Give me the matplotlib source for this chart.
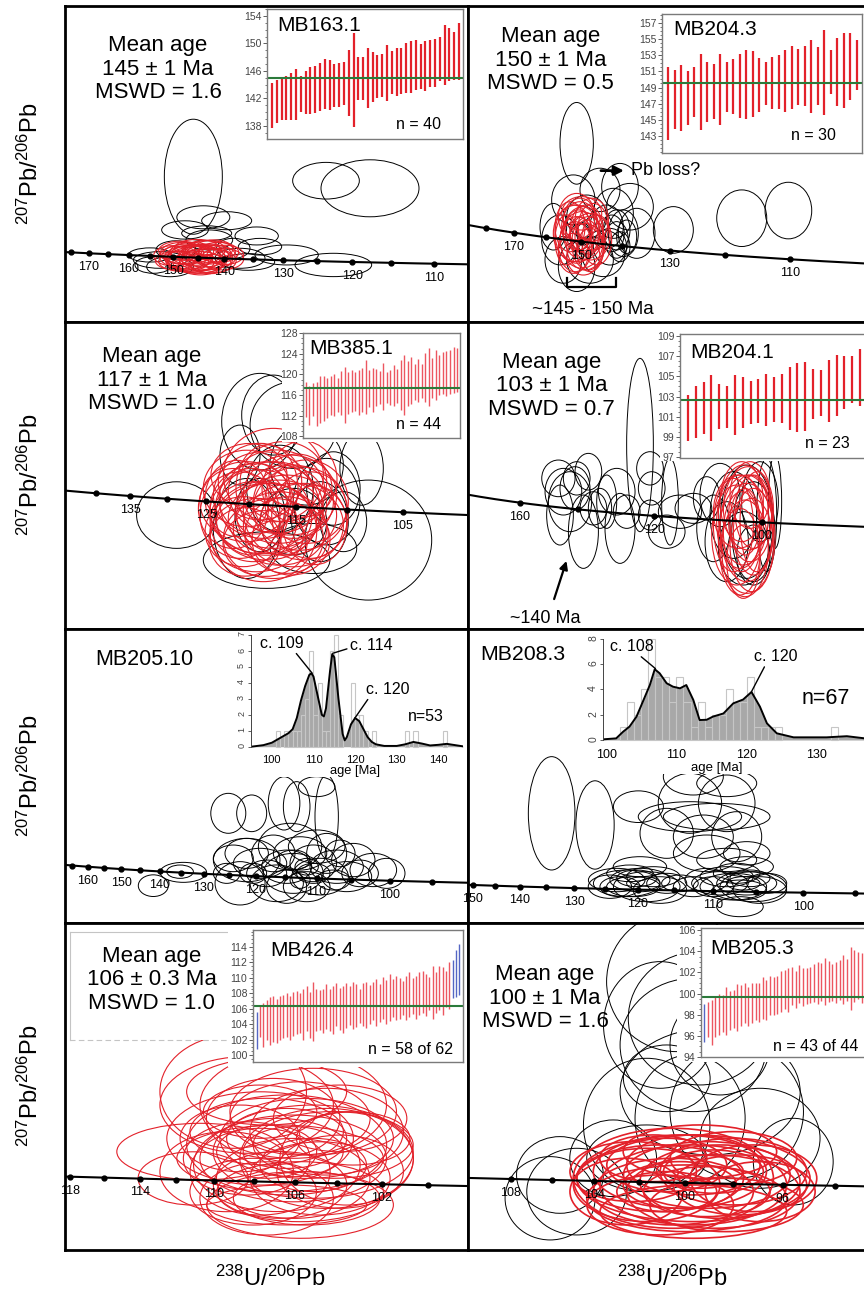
import numpy as np
import matplotlib.pyplot as plt
from matplotlib.patches import Ellipse
from matplotlib.ticker import MultipleLocator

plt.rcParams['font.family'] = ['Liberation Sans', 'DejaVu Sans']
plt.rcParams['mathtext.default'] = 'regular'

FW, FH = 864, 1299
RED = '#e3212a'
PALE_RED = '#ec5660'
BLUE = '#5566c4'
GREEN = '#2b7a3a'
NARROW = ['Liberation Sans Narrow', 'Liberation Sans', 'DejaVu Sans']

# U-Pb decay constants (1/Ma) and 238U/235U
L238, L235, U85 = 1.55125e-4, 9.8485e-4, 137.818

# ---------------- MB163.1 ----------------
a_black = [(43.68, 0.05868, 3.48, 0.0138), (51.64, 0.0582, 4.0, 0.0044),
           (54.28, 0.05729, 5.88, 0.00684), (44.28, 0.05381, 3.18, 0.00276),
           (45.68, 0.0534, 3.0, 0.00216), (47.48, 0.05157, 2.6, 0.00216),
           (47.68, 0.05028, 2.6, 0.0020), (49.28, 0.04929, 3.8, 0.0024),
           (52.08, 0.04809, 4.6, 0.0028), (44.64, 0.05109, 2.8, 0.0024),
           (44.48, 0.05189, 3.0, 0.0018), (41.68, 0.04869, 3.2, 0.0020),
           (41.28, 0.04809, 2.2, 0.0020), (42.28, 0.04788, 2.8, 0.0024),
           (46.48, 0.04889, 3.0, 0.0024), (46.08, 0.05009, 2.0, 0.0024),
           (41.08, 0.04929, 2.6, 0.0017), (46.96, 0.04845, 3.2, 0.0020),
           (42.64, 0.04989, 2.4, 0.0022), (43.18, 0.05229, 2.8, 0.0022)]
a_red = [(43.0, 0.0495, 2.6, 0.0026), (43.4, 0.0490, 2.9, 0.0028), (43.8, 0.0493, 3.0, 0.0025),
         (44.2, 0.0489, 2.8, 0.0030), (44.6, 0.0494, 2.7, 0.0024), (45.0, 0.0491, 2.5, 0.0027),
         (43.2, 0.0487, 2.4, 0.0024), (43.6, 0.0497, 2.6, 0.0022), (44.0, 0.0484, 3.1, 0.0026),
         (44.4, 0.0499, 2.4, 0.0023), (44.8, 0.0486, 2.9, 0.0029), (42.8, 0.0491, 2.3, 0.0025),
         (45.2, 0.0496, 2.4, 0.0024), (43.9, 0.0501, 2.7, 0.0021), (44.1, 0.0481, 2.6, 0.0024),
         (43.5, 0.0483, 2.8, 0.0022), (44.7, 0.0482, 2.5, 0.0023), (42.9, 0.0498, 2.6, 0.0023),
         (45.4, 0.0488, 2.6, 0.0026), (43.7, 0.0489, 3.2, 0.0031), (44.3, 0.0492, 3.0, 0.0027),
         (42.6, 0.0486, 2.4, 0.0022), (44.9, 0.0500, 2.3, 0.0022), (43.3, 0.0494, 2.9, 0.0024),
         (44.5, 0.0488, 3.1, 0.0025), (42.4, 0.0492, 2.2, 0.0024), (45.6, 0.0493, 2.2, 0.0023),
         (43.1, 0.0485, 3.0, 0.0024), (44.6, 0.0497, 3.2, 0.0026), (43.9, 0.0487, 3.6, 0.0032)]
a_hi = [144.2, 144.7, 145.0, 145.2, 145.7, 146.3, 145.3, 146.0, 146.6, 146.7,
        147.2, 147.7, 147.6, 147.0, 147.2, 147.3, 149.0, 151.5, 148.0, 148.0,
        149.3, 148.8, 148.3, 148.4, 149.8, 148.9, 149.3, 149.3, 150.1, 150.4,
        150.5, 149.9, 150.4, 150.5, 150.6, 151.0, 152.7, 152.2, 151.7, 152.9]
a_lo = [137.7, 138.4, 138.8, 138.8, 138.9, 138.9, 140.0, 139.8, 139.8, 139.9,
        140.2, 140.5, 140.3, 140.8, 140.8, 141.0, 139.4, 137.9, 141.7, 141.8,
        140.6, 141.5, 142.0, 142.2, 141.6, 142.7, 142.3, 142.7, 142.8, 142.8,
        143.2, 143.4, 143.1, 143.6, 143.7, 144.6, 143.9, 144.5, 144.7, 144.7]

# ---------------- MB204.3 ----------------
b_black = [(42.12, 0.05369, 2.5, 0.00384), (54.5, 0.05017, 3.75, 0.00266),
           (58.0, 0.05053, 3.5, 0.00266), (49.37, 0.04962, 3.0, 0.00219),
           (41.87, 0.05103, 3.25, 0.00235), (43.87, 0.0515, 3.0, 0.00204),
           (45.37, 0.05165, 2.75, 0.00219), (46.12, 0.05071, 3.5, 0.00219),
           (46.62, 0.04946, 2.75, 0.00235), (45.62, 0.04946, 2.25, 0.00219),
           (45.12, 0.04962, 2.0, 0.00188), (44.87, 0.0504, 3.0, 0.00235),
           (40.87, 0.04915, 2.75, 0.00235), (41.12, 0.04821, 2.75, 0.00219),
           (42.12, 0.0479, 2.75, 0.00235), (43.12, 0.04821, 3.5, 0.00219),
           (44.12, 0.04852, 3.25, 0.00219), (42.87, 0.05024, 3.0, 0.00204),
           (40.37, 0.04977, 2.0, 0.00219), (44.62, 0.04883, 2.5, 0.00172),
           (45.37, 0.04883, 1.5, 0.00141), (45.12, 0.04915, 1.75, 0.00172),
           (45.87, 0.0493, 1.5, 0.00157), (42.37, 0.0493, 1.5, 0.00125),
           (42.62, 0.04946, 1.0, 0.00094), (44.75, 0.04946, 1.88, 0.00172),
           (44.37, 0.04977, 2.5, 0.00204)]
b_red = [(42.37, 0.04977, 2.75, 0.00235), (42.62, 0.04946, 3.0, 0.00251), (42.12, 0.04915, 2.5, 0.00219),
         (42.87, 0.04962, 2.5, 0.00235), (41.87, 0.04946, 2.75, 0.00266), (43.12, 0.0493, 3.0, 0.00219),
         (42.37, 0.05009, 2.5, 0.00204), (42.0, 0.04883, 2.5, 0.00235), (42.75, 0.04883, 2.75, 0.00219),
         (43.37, 0.04977, 2.25, 0.00219), (41.62, 0.04977, 2.25, 0.00235), (42.5, 0.04915, 3.25, 0.00266),
         (42.25, 0.04962, 2.0, 0.00188), (43.0, 0.04899, 2.5, 0.00251), (42.12, 0.05024, 2.75, 0.00219),
         (43.25, 0.05009, 2.5, 0.00204), (41.87, 0.04852, 2.25, 0.00188), (42.62, 0.04836, 2.5, 0.00172),
         (41.37, 0.04915, 1.75, 0.00235), (43.62, 0.04915, 2.25, 0.00235), (42.37, 0.04946, 1.5, 0.00157),
         (42.87, 0.0493, 1.75, 0.00157), (42.12, 0.04946, 3.5, 0.00266), (42.5, 0.0504, 3.0, 0.00157),
         (43.12, 0.04868, 2.0, 0.00204)]
b_hi = [151.5, 151.2, 151.8, 151.0, 151.5, 153.1, 152.1, 151.9, 153.1, 152.2,
        152.5, 153.1, 153.6, 153.5, 152.6, 152.1, 152.8, 153.0, 153.6, 154.2,
        153.8, 154.2, 154.9, 154.0, 156.1, 153.6, 155.1, 155.7, 155.7, 154.9]
b_lo = [142.5, 143.9, 143.6, 144.4, 145.3, 143.7, 144.7, 145.1, 144.4, 146.0,
        145.7, 145.2, 145.1, 145.3, 146.0, 146.8, 146.4, 146.3, 146.0, 146.3,
        146.8, 146.7, 145.8, 146.8, 145.6, 148.2, 146.7, 146.5, 147.4, 148.7]

# ---------------- MB385.1 ----------------
c_black = [(49.58, 0.04803, 4.0, 0.00253), (59.17, 0.04708, 6.33, 0.00456),
           (58.83, 0.0498, 2.17, 0.00279), (53.75, 0.05158, 3.83, 0.00367),
           (54.42, 0.05183, 3.17, 0.00304), (55.42, 0.05145, 4.33, 0.00329),
           (54.08, 0.04632, 6.33, 0.00215), (56.42, 0.04676, 4.33, 0.0019),
           (57.08, 0.04854, 3.33, 0.00329), (57.42, 0.04904, 2.67, 0.00279),
           (56.08, 0.04993, 3.67, 0.00304), (54.75, 0.04904, 3.33, 0.00329),
           (52.75, 0.05031, 2.0, 0.00228), (55.42, 0.04778, 3.33, 0.00253),
           (53.75, 0.04803, 2.5, 0.00279), (57.92, 0.04778, 2.33, 0.00228),
           (56.75, 0.04778, 2.83, 0.00304), (53.08, 0.04752, 3.33, 0.0038)]
c_red = [(53.08, 0.04854, 4.67, 0.00304), (53.75, 0.04816, 5.0, 0.00317), (54.42, 0.04841, 5.33, 0.00329),
         (55.08, 0.04803, 5.0, 0.00304), (55.75, 0.04828, 4.67, 0.00317), (54.08, 0.04778, 5.0, 0.00291),
         (53.42, 0.04778, 4.33, 0.00304), (54.75, 0.04752, 4.67, 0.00279), (55.42, 0.04765, 5.0, 0.00317),
         (52.75, 0.04803, 4.0, 0.00329), (53.92, 0.04879, 5.0, 0.00329), (54.58, 0.04892, 4.83, 0.00317),
         (55.25, 0.04879, 4.67, 0.00304), (55.92, 0.04778, 4.33, 0.00291), (53.58, 0.04727, 4.67, 0.00279),
         (54.42, 0.04714, 5.0, 0.00304), (53.75, 0.0493, 4.17, 0.00291), (54.92, 0.0493, 4.33, 0.00304),
         (53.08, 0.04904, 4.33, 0.00291), (54.08, 0.04828, 5.67, 0.00355), (55.42, 0.04854, 4.0, 0.00279),
         (52.92, 0.0474, 3.83, 0.00266), (55.08, 0.04727, 4.17, 0.00291), (56.08, 0.04854, 4.17, 0.00317),
         (54.25, 0.0479, 4.17, 0.00266), (53.33, 0.04816, 3.67, 0.00329), (54.83, 0.04822, 3.83, 0.00342),
         (53.92, 0.0474, 5.33, 0.0038), (52.42, 0.04828, 3.5, 0.00304), (56.25, 0.04803, 3.83, 0.00329),
         (54.42, 0.04955, 5.0, 0.00355), (53.5, 0.04866, 3.6, 0.0027), (55.6, 0.04905, 3.5, 0.0026),
         (54.0, 0.04695, 4.2, 0.0025), (55.3, 0.0471, 3.9, 0.0027), (52.6, 0.04866, 3.2, 0.0029),
         (56.5, 0.04765, 3.2, 0.0030), (54.7, 0.04816, 4.4, 0.0024), (53.2, 0.04955, 3.8, 0.0024),
         (55.9, 0.0494, 3.4, 0.0029), (54.1, 0.04905, 3.1, 0.0033), (53.0, 0.04701, 3.6, 0.0026)]
c_hi = [118.6, 117.7, 118.3, 118.6, 119.6, 119.7, 119.3, 119.6, 120.1, 119.3, 120.6,
        121.5, 120.5, 120.9, 120.5, 120.9, 121.2, 122.8, 120.9, 121.2, 121.1, 120.6,
        122.2, 120.5, 120.9, 121.9, 121.0, 122.8, 123.7, 122.5, 123.3, 122.0, 123.0,
        122.0, 124.1, 125.1, 123.2, 124.8, 123.8, 124.3, 124.6, 124.8, 125.2, 125.1]
c_lo = [111.7, 110.3, 111.9, 110.1, 110.6, 111.0, 111.5, 112.2, 111.9, 112.7, 112.2,
        110.6, 112.3, 112.8, 113.0, 112.2, 112.7, 112.3, 113.6, 112.8, 113.8, 114.3,
        113.2, 114.5, 114.0, 113.8, 114.5, 113.2, 112.1, 113.8, 114.3, 115.1, 114.6,
        115.5, 114.6, 113.8, 115.5, 115.1, 116.1, 116.2, 115.9, 116.2, 116.4, 116.6]

# ---------------- MB204.1 ----------------
d_black = [(51.79, 0.05291, 2.67, 0.01092), (43.63, 0.05081, 3.33, 0.00231),
           (45.46, 0.05081, 2.67, 0.0021), (45.29, 0.05018, 3.0, 0.00273),
           (44.79, 0.04934, 4.33, 0.00378), (43.79, 0.0485, 2.67, 0.00378),
           (46.13, 0.04745, 3.0, 0.00462), (47.13, 0.04892, 2.67, 0.0021),
           (47.79, 0.04892, 2.33, 0.00252), (46.63, 0.05123, 2.67, 0.00231),
           (49.46, 0.04997, 3.67, 0.00294), (49.79, 0.04766, 3.0, 0.00441),
           (50.46, 0.04871, 2.67, 0.0021), (52.79, 0.05144, 2.67, 0.0021),
           (52.96, 0.05018, 2.67, 0.0021), (52.79, 0.0485, 2.33, 0.00189),
           (54.79, 0.04934, 1.67, 0.00546), (54.46, 0.04745, 3.67, 0.0021),
           (55.79, 0.04871, 4.33, 0.0021), (57.13, 0.04892, 3.67, 0.00189),
           (58.46, 0.04955, 2.67, 0.00273), (59.79, 0.04976, 4.0, 0.00399),
           (61.13, 0.0485, 4.67, 0.00546), (62.46, 0.04808, 5.33, 0.00714),
           (63.13, 0.04745, 4.33, 0.0063), (63.79, 0.04934, 3.67, 0.00504),
           (64.46, 0.0485, 2.0, 0.00714), (65.29, 0.04934, 1.33, 0.00588),
           (60.46, 0.04682, 4.33, 0.00504), (62.13, 0.0464, 5.0, 0.00462),
           (63.13, 0.04598, 3.33, 0.00378), (59.13, 0.04766, 3.33, 0.0042),
           (44.13, 0.04997, 3.67, 0.00294), (48.46, 0.04934, 2.0, 0.00336)]
d_red = [(62.13, 0.0485, 5.0, 0.0063), (62.46, 0.04766, 5.33, 0.00672), (61.79, 0.04808, 4.67, 0.00588),
         (62.79, 0.04829, 4.33, 0.00546), (61.46, 0.04724, 5.0, 0.0063), (62.29, 0.0464, 4.67, 0.00609),
         (63.13, 0.04745, 4.0, 0.00546), (61.96, 0.04934, 4.33, 0.00504), (62.63, 0.04892, 5.0, 0.00525),
         (61.13, 0.04787, 4.0, 0.00588), (62.96, 0.04661, 4.33, 0.00588), (62.13, 0.04556, 3.33, 0.00462),
         (63.46, 0.04808, 3.33, 0.0063), (61.63, 0.04871, 5.0, 0.00462), (62.46, 0.04703, 5.67, 0.00693),
         (61.96, 0.04745, 3.67, 0.00504), (62.79, 0.04976, 4.0, 0.0042), (62.29, 0.04808, 3.0, 0.0042),
         (61.79, 0.04619, 4.0, 0.00546), (63.13, 0.04871, 3.67, 0.00462)]
d_hi = [103.1, 104.0, 104.4, 105.1, 104.2, 104.0, 105.1, 104.9, 104.5, 104.7, 105.2, 104.9,
        105.2, 105.9, 106.3, 106.4, 105.7, 105.6, 106.6, 107.1, 107.0, 107.0, 107.7]
d_lo = [98.6, 98.9, 99.3, 98.6, 99.8, 99.9, 99.2, 99.9, 100.3, 100.4, 100.1, 100.5,
        100.4, 99.7, 99.5, 99.6, 100.8, 101.1, 100.5, 101.1, 101.8, 102.4, 102.1]

# ---------------- MB205.10 ----------------
e_black = [(45.04, 0.0476, 2.4, 0.00192), (47.44, 0.04878, 3.73, 0.00177),
           (47.18, 0.04884, 2.13, 0.00118), (51.04, 0.05401, 2.8, 0.00354),
           (52.91, 0.05401, 2.4, 0.00325), (55.5, 0.05489, 2.53, 0.00472),
           (56.51, 0.0546, 2.13, 0.00443), (58.91, 0.05371, 1.87, 0.00738),
           (58.11, 0.05637, 2.93, 0.00177), (55.98, 0.05106, 5.07, 0.00413),
           (52.51, 0.04987, 5.33, 0.00384), (51.44, 0.05002, 3.2, 0.00236),
           (52.51, 0.05046, 3.47, 0.00266), (53.58, 0.04958, 4.27, 0.00266),
           (51.98, 0.04781, 4.0, 0.00384), (54.64, 0.05046, 3.47, 0.00325),
           (55.71, 0.04928, 4.0, 0.00295), (56.24, 0.04869, 4.8, 0.00354),
           (56.78, 0.05046, 4.27, 0.00295), (57.84, 0.04958, 3.73, 0.00325),
           (58.38, 0.0484, 4.53, 0.00325), (58.91, 0.05046, 3.2, 0.00354),
           (59.71, 0.04928, 4.27, 0.00295), (60.51, 0.0484, 4.0, 0.00266),
           (61.04, 0.04987, 3.47, 0.00295), (61.58, 0.04869, 2.93, 0.00236),
           (63.71, 0.04869, 2.93, 0.00266), (62.64, 0.04899, 3.73, 0.00295),
           (54.91, 0.04781, 4.27, 0.00325), (57.31, 0.04751, 3.73, 0.00266),
           (54.11, 0.04869, 3.2, 0.00236), (56.24, 0.04987, 2.67, 0.00177),
           (57.84, 0.04869, 2.67, 0.00177), (59.44, 0.0481, 2.67, 0.00177),
           (53.04, 0.04869, 2.13, 0.00177), (55.71, 0.04751, 3.2, 0.00295),
           (58.11, 0.05106, 4.53, 0.00295), (59.98, 0.05046, 2.4, 0.00236),
           (50.91, 0.04869, 2.13, 0.00177), (56.78, 0.0481, 1.6, 0.00148),
           (57.31, 0.04928, 1.87, 0.00148)]
e_bin = [101, 103, 104, 105, 106, 107, 108, 109, 110, 111, 112, 113, 114, 115, 116,
         119, 120, 121, 122, 124, 132, 134, 141]
e_count = [1, 1, 1, 1, 1, 2, 3, 6, 2, 4, 1, 1, 6, 7, 2, 4, 2, 2, 1, 1, 1, 1, 1]
e_kde_age = [95, 98, 100, 102, 104, 105, 106, 107, 108, 109, 109.5, 110, 111, 112, 112.5,
             113, 114, 114.5, 115, 116, 117, 117.5, 118, 119, 120, 121, 122, 123, 124,
             125, 127, 130, 132, 134, 136, 138, 140, 142, 144, 146]
e_kde = [0, 0.1, 0.25, 0.55, 0.85, 1.1, 1.8, 2.9, 3.8, 4.5, 4.6, 4.4, 3.2, 2.0, 1.9,
         2.4, 4.8, 5.8, 5.6, 3.0, 0.8, 0.4, 0.6, 1.4, 1.8, 1.6, 1.1, 0.6, 0.3,
         0.15, 0.05, 0.05, 0.15, 0.3, 0.2, 0.08, 0.12, 0.18, 0.1, 0.02]

# ---------------- MB208.3 ----------------
f_black = [(47.61, 0.05867, 3.03, 0.01519), (50.43, 0.05711, 2.49, 0.01184),
           (53.25, 0.05956, 3.25, 0.00424), (56.82, 0.06358, 3.9, 0.00491),
           (58.99, 0.06269, 3.9, 0.00357), (56.6, 0.06001, 4.12, 0.00804),
           (58.99, 0.06001, 3.68, 0.00759), (56.6, 0.05822, 6.72, 0.00402),
           (58.34, 0.05822, 6.93, 0.00357), (55.09, 0.05599, 3.47, 0.0067),
           (57.47, 0.05554, 3.9, 0.00581), (59.64, 0.05554, 3.25, 0.0067),
           (57.69, 0.05331, 4.33, 0.00491), (60.29, 0.05331, 3.03, 0.00313),
           (51.84, 0.04973, 3.68, 0.00313), (52.49, 0.04929, 4.33, 0.00357),
           (53.35, 0.04973, 3.9, 0.00313), (52.92, 0.04884, 3.47, 0.00268),
           (53.79, 0.04884, 4.33, 0.00402), (54.22, 0.05018, 3.47, 0.00268),
           (54.65, 0.04839, 3.47, 0.00357), (52.05, 0.04884, 2.6, 0.00268),
           (52.7, 0.05063, 3.03, 0.00223), (53.57, 0.04929, 2.17, 0.00179),
           (53.14, 0.04996, 2.6, 0.00223), (55.09, 0.04929, 2.6, 0.00268),
           (51.4, 0.04884, 2.82, 0.00313), (53.35, 0.05152, 3.47, 0.00268),
           (58.55, 0.04929, 3.68, 0.00313), (59.42, 0.04884, 4.33, 0.00357),
           (60.29, 0.04929, 3.9, 0.00313), (59.85, 0.04839, 3.47, 0.00268),
           (60.72, 0.04884, 4.33, 0.00402), (58.99, 0.05018, 3.47, 0.00268),
           (61.15, 0.04839, 3.47, 0.00357), (58.12, 0.04884, 2.6, 0.00268),
           (59.64, 0.05063, 3.03, 0.00268), (60.07, 0.04929, 2.17, 0.00179),
           (60.5, 0.04996, 2.6, 0.00223), (61.59, 0.04929, 2.6, 0.00268),
           (57.69, 0.04973, 2.82, 0.00313), (60.29, 0.05152, 3.47, 0.00268),
           (59.85, 0.04616, 3.03, 0.00268), (58.99, 0.05242, 3.9, 0.00313),
           (56.82, 0.04884, 2.6, 0.00268), (55.95, 0.04929, 2.38, 0.00223)]
f_bin = [102, 103, 104, 105, 106, 107, 108, 109, 110, 111, 112, 113, 114, 115, 116,
         117, 118, 119, 120, 121, 122, 123, 124, 132]
f_count = [1, 3, 2, 4, 8, 5, 5, 3, 5, 3, 1, 3, 1, 2, 2, 4, 3, 3, 5, 1, 1, 1, 1, 1]
f_kde_age = [99.5, 101.4, 102.4, 103.3, 104.3, 105.2, 106.2, 106.9, 107.6, 108.6, 109.5,
             110.5, 111.4, 112.4, 113.3, 114.3, 115.2, 116.7, 118.1, 119.5, 120.7, 121.9,
             122.9, 124.3, 126.7, 131.4, 134.3, 137.6]
f_kde = [0.05, 0.13, 0.66, 1.06, 1.85, 3.03, 4.35, 5.6, 5.28, 4.49, 4.22, 4.09, 4.35,
         3.17, 1.58, 1.6, 1.85, 2.1, 2.9, 3.2, 3.8, 2.64, 1.32, 0.53, 0.21, 0.21, 0.3, 0.08]

# ---------------- MB426.4 ----------------
g_red = [(57.71, 0.04948, 4.58, 0.00244), (57.52, 0.04833, 3.03, 0.00229), (58.99, 0.05149, 4.77, 0.00416),
         (59.54, 0.05206, 4.4, 0.00287), (58.62, 0.05206, 4.03, 0.00487), (59.36, 0.05005, 5.13, 0.00401),
         (60.09, 0.04977, 5.5, 0.0043), (60.27, 0.04919, 5.13, 0.00373), (60.64, 0.05005, 4.77, 0.00344),
         (60.82, 0.04948, 5.5, 0.00401), (61.19, 0.04919, 4.77, 0.0043), (61.37, 0.04977, 4.4, 0.00287),
         (59.82, 0.04891, 4.58, 0.00401), (59.36, 0.04862, 3.85, 0.00373), (60.27, 0.04833, 4.22, 0.00344),
         (61.01, 0.04833, 3.85, 0.00315), (61.56, 0.04862, 3.48, 0.00315), (59.91, 0.04805, 3.67, 0.00287),
         (60.46, 0.04776, 4.58, 0.00258), (58.99, 0.04919, 3.48, 0.00315), (59.54, 0.04948, 2.75, 0.00229),
         (60.27, 0.04948, 2.75, 0.00215), (60.82, 0.04891, 2.93, 0.00229), (60.09, 0.05005, 3.3, 0.00258),
         (59.72, 0.05091, 3.67, 0.00344), (60.46, 0.05091, 3.85, 0.00315), (61.19, 0.05034, 4.22, 0.00373),
         (61.74, 0.04919, 3.67, 0.00401), (59.17, 0.04776, 3.48, 0.00287), (60.64, 0.04747, 4.03, 0.00229),
         (60.09, 0.04719, 4.4, 0.00172), (58.81, 0.05005, 3.3, 0.00287), (58.44, 0.04862, 3.67, 0.00344),
         (61.92, 0.05005, 3.12, 0.00229), (59.54, 0.05034, 4.22, 0.00287), (60.82, 0.0512, 4.58, 0.00373),
         (60.27, 0.05149, 5.13, 0.00459), (59.36, 0.0512, 3.12, 0.00229), (61.56, 0.05091, 3.67, 0.00287),
         (59.91, 0.04919, 5.68, 0.00287), (60.46, 0.04719, 5.13, 0.00287), (59.54, 0.04747, 3.67, 0.00315)]
g_hi = [106.5, 106.8, 107.1, 107.5, 107.6, 107.3, 107.7, 107.8, 108.0, 107.7,
        108.2, 108.3, 108.0, 108.5, 109.0, 108.2, 109.5, 108.5, 108.4, 108.6,
        109.2, 108.5, 109.0, 109.3, 108.7, 109.0, 109.3, 108.9, 109.5, 109.2,
        108.5, 109.3, 109.4, 109.1, 109.5, 109.8, 109.2, 110.1, 109.7, 110.5,
        109.9, 110.2, 110.0, 109.6, 110.3, 110.8, 110.0, 110.2, 110.7, 110.9,
        110.5, 110.1, 111.6, 110.7, 111.5, 111.4, 110.9, 112.0]
g_lo = [102.4, 101.1, 102.0, 101.3, 101.7, 101.5, 102.0, 102.2, 102.3, 101.9,
        102.5, 102.7, 102.9, 102.0, 103.1, 102.2, 101.8, 103.1, 103.3, 102.9,
        103.4, 103.1, 102.7, 103.8, 103.2, 102.9, 103.5, 103.9, 103.4, 103.6,
        104.2, 103.8, 103.5, 104.0, 104.5, 103.8, 104.3, 104.7, 104.0, 104.4,
        104.9, 104.5, 104.7, 105.2, 104.6, 104.9, 105.3, 104.7, 105.2, 105.5,
        105.0, 105.8, 104.7, 105.4, 105.9, 105.2, 106.2, 106.0]
g_rej_pos = [1, 60, 61, 62]
g_rej_hi = [105.6, 112.3, 113.6, 114.4]
g_rej_lo = [100.8, 107.4, 107.5, 107.8]

# ---------------- MB205.3 ----------------
h_black = [(63.74, 0.05649, 3.84, 0.00588), (64.38, 0.05495, 3.93, 0.0056),
           (64.2, 0.05383, 4.02, 0.0056), (64.66, 0.05187, 4.94, 0.00532),
           (63.47, 0.05243, 2.38, 0.0028), (62.92, 0.05047, 3.47, 0.0056),
           (64.11, 0.05075, 3.02, 0.00532), (65.39, 0.05103, 3.66, 0.0056),
           (66.03, 0.04991, 3.29, 0.0042), (66.94, 0.04893, 2.19, 0.00364),
           (60.54, 0.04837, 2.38, 0.00322), (61.0, 0.04767, 2.74, 0.00364),
           (60.27, 0.04739, 2.47, 0.0035), (62.0, 0.04907, 2.38, 0.00322),
           (62.92, 0.04907, 3.29, 0.0028), (64.93, 0.05383, 2.74, 0.0042),
           (63.29, 0.05467, 3.11, 0.00532)]
h_red = [(63.29, 0.04823, 4.57, 0.0028), (63.83, 0.04851, 4.75, 0.00308), (64.2, 0.04795, 5.12, 0.00336),
         (64.57, 0.04837, 4.57, 0.0028), (64.93, 0.04809, 4.39, 0.00308), (65.3, 0.04851, 4.02, 0.0028),
         (63.65, 0.04767, 4.39, 0.0028), (62.92, 0.04795, 4.02, 0.00308), (62.55, 0.04851, 3.47, 0.00252),
         (64.2, 0.04879, 3.66, 0.00252), (64.75, 0.04767, 4.75, 0.00308), (64.02, 0.04739, 5.49, 0.0028),
         (63.47, 0.04879, 3.29, 0.00224), (65.48, 0.04795, 3.66, 0.00252), (65.85, 0.04823, 3.47, 0.0028),
         (64.38, 0.04935, 4.21, 0.00224), (63.29, 0.04711, 4.02, 0.00252), (65.11, 0.04711, 4.21, 0.00224),
         (64.2, 0.04823, 6.4, 0.00364), (63.83, 0.04795, 3.11, 0.00196), (64.57, 0.04767, 3.47, 0.0021),
         (63.1, 0.04907, 2.93, 0.00196), (65.3, 0.04907, 3.47, 0.00224), (64.2, 0.04683, 5.12, 0.00224),
         (62.37, 0.04767, 3.11, 0.0028), (66.03, 0.04767, 3.02, 0.00252), (63.65, 0.04823, 5.49, 0.0042),
         (64.75, 0.04851, 2.74, 0.00182), (63.47, 0.04767, 2.74, 0.00168), (64.38, 0.04851, 2.38, 0.0014)]
h_hi = [99.2, 99.4, 99.8, 100.0, 99.9, 100.6, 100.2, 100.3, 100.9, 100.8,
        101.0, 100.6, 101.0, 101.0, 101.0, 101.6, 101.3, 101.7, 101.6, 101.7,
        102.1, 102.2, 102.4, 102.5, 102.1, 102.7, 102.4, 102.4, 102.5, 102.8,
        103.0, 102.9, 103.4, 103.1, 102.8, 103.0, 103.2, 103.6, 103.3, 104.4,
        104.1, 103.9, 103.8]
h_lo = [95.9, 95.1, 95.9, 96.1, 96.4, 96.1, 96.6, 96.7, 96.5, 96.9,
        97.2, 96.9, 97.2, 97.5, 97.3, 97.6, 97.5, 98.0, 98.0, 98.1,
        98.3, 98.5, 98.3, 98.9, 98.6, 99.1, 98.8, 99.0, 99.1, 99.2,
        99.0, 99.3, 98.9, 99.2, 99.3, 99.1, 99.4, 99.0, 99.3, 98.4,
        99.2, 99.5, 99.1]
h_rej_pos = [1]
h_rej_hi = [99.0]
h_rej_lo = [95.4]


def tw_x(t):
    return 1.0 / np.expm1(L238 * np.asarray(t, float))


def tw_y(t):
    t = np.asarray(t, float)
    return np.expm1(L235 * t) / (U85 * np.expm1(L238 * t))


fig = plt.figure(figsize=(FW / 100, FH / 100), dpi=100)


def rect(x0, y0, x1, y1):
    return [x0 / FW, 1 - y1 / FH, (x1 - x0) / FW, (y1 - y0) / FH]


def blank(box, edge=None):
    ax = fig.add_axes(rect(*box))
    ax.set_xticks([])
    ax.set_yticks([])
    for sp in ax.spines.values():
        sp.set_visible(edge is not None)
        if edge:
            sp.set_color(edge)
            sp.set_linewidth(0.8)
    return ax


def tw_panel(box, xlim, ylim, black, red, dots, labels, red_lw=0.8):
    ax = fig.add_axes(rect(*box))
    ax.set_xlim(xlim)
    ax.set_ylim(ylim)
    ax.set_xticks([])
    ax.set_yticks([])
    for sp in ax.spines.values():
        sp.set_linewidth(2)
    for cx, cy, w, h in black:
        ax.add_patch(Ellipse((cx, cy), w, h, fill=False, ec='black', lw=0.7))
    for cx, cy, w, h in red:
        ax.add_patch(Ellipse((cx, cy), w, h, fill=False, ec=RED, lw=red_lw))
    t = np.linspace(80, 200, 600)
    ax.plot(tw_x(t), tw_y(t), color='black', lw=1.5, zorder=5)
    ax.plot(tw_x(dots), tw_y(dots), 'o', color='black', ms=3.5, zorder=6)
    for a in labels:
        ax.annotate(str(a), (tw_x(a), tw_y(a)), xytext=(0, -10),
                    textcoords='offset points', ha='center', va='center',
                    fontsize=9, zorder=7, annotation_clip=False)
    return ax


def mean_text(ax, x, y, s):
    ax.text(x, y, s, transform=ax.transAxes, ha='center', va='center',
            fontsize=16, linespacing=1.15, zorder=8)


def wm_inset(bg, box, lo, hi, mean, ylim, yticks, minor, xlim, name, name_xy,
             ntxt, n_xy, color=RED, lw=1.6, rej=None):
    blank(bg)
    ax = fig.add_axes(rect(*box))
    pos = np.arange(1, len(lo) + 1)
    if rej is not None:
        pos = np.array([p for p in range(1, len(lo) + len(rej[0]) + 1) if p not in rej[0]])
        ax.vlines(rej[0], rej[1], rej[2], colors=BLUE, lw=lw)
    ax.vlines(pos, lo, hi, colors=color, lw=lw)
    ax.axhline(mean, color=GREEN, lw=1.5)
    ax.set_xlim(xlim)
    ax.set_ylim(ylim)
    ax.set_xticks([])
    ax.set_yticks(yticks)
    ax.yaxis.set_minor_locator(MultipleLocator(minor))
    ax.tick_params(axis='y', which='major', length=3, width=0.6, labelsize=7.5,
                   pad=1, colors='#444444')
    ax.tick_params(axis='y', which='minor', length=1.5, width=0.5, colors='#444444')
    for sp in ax.spines.values():
        sp.set_color('#7a7a7a')
        sp.set_linewidth(1)
    ax.text(*name_xy, name, transform=ax.transAxes, fontsize=15, va='center')
    ax.text(*n_xy, ntxt, transform=ax.transAxes, fontsize=11.5, ha='right', va='center')
    return ax


def kde_inset(bg, box, bins, counts, kage, kden, xlim, ylim, yticks, xticks,
              xsize=8, ysize=6.5):
    blank(bg)
    ax = fig.add_axes(rect(*box))
    ax.patch.set_alpha(0)
    ax.fill_between(kage, kden, color='#a8a8a8', lw=0)
    ax.bar(bins, counts, width=1, align='edge', facecolor='none',
           edgecolor='#c6c6c6', lw=0.8)
    ax.plot(kage, kden, color='black', lw=1.4)
    ax.set_xlim(xlim)
    ax.set_ylim(ylim)
    ax.set_yticks(yticks)
    ax.set_xticks(xticks)
    for s in ('top', 'right', 'bottom'):
        ax.spines[s].set_visible(False)
    ax.spines['left'].set_bounds(yticks[0], yticks[-1])
    ax.spines['left'].set_color('#444444')
    ax.spines['left'].set_linewidth(0.7)
    ax.tick_params(axis='y', length=2.5, width=0.6, labelsize=ysize, pad=1,
                   labelrotation=90, colors='#444444')
    ax.tick_params(axis='x', length=0, labelsize=xsize, pad=2)
    return ax


# ---- row 1 ----
ax = tw_panel((65, 6, 468, 322), (35.98, 60.16), (0.041245, 0.079165), a_black, a_red,
              [175, 170, 165, 160, 155, 150, 145, 140, 135, 130, 125, 120, 115, 110],
              [170, 160, 150, 140, 130, 120, 110])
mean_text(ax, 0.231, 0.80, 'Mean age\n145 ± 1 Ma\nMSWD = 1.6')
wm_inset((244, 8, 466, 142), (267, 9, 463, 139), a_lo, a_hi, 145.0, (136.1, 155.0),
         [138, 142, 146, 150, 154], 1, (-0.04, 40.83), 'MB163.1', (0.05, 0.87),
         'n = 40', (0.89, 0.115))

ax = tw_panel((468, 6, 876, 322), (33.97, 64.57), (0.045292, 0.060144), b_black, b_red,
              [180, 170, 160, 150, 140, 130, 120, 110], [170, 150, 130, 110])
mean_text(ax, 0.203, 0.829, 'Mean age\n150 ± 1 Ma\nMSWD = 0.5')
ax.annotate('', xy=(0.389, 0.479), xytext=(0.319, 0.479), xycoords='axes fraction',
            arrowprops=dict(arrowstyle='-|>', color='black', lw=2, mutation_scale=14))
ax.text(0.399, 0.479, 'Pb loss?', transform=ax.transAxes, fontsize=13, va='center')
ax.plot([0.243, 0.243, 0.363, 0.363], [0.138, 0.11, 0.11, 0.138], color='black',
        lw=1.6, transform=ax.transAxes)
ax.text(0.307, 0.038, '~145 - 150 Ma', transform=ax.transAxes, fontsize=13.5,
        ha='center', va='center')
wm_inset((635, 10, 868, 157), (662, 14, 862, 153), b_lo, b_hi, 149.5, (140.9, 158.1),
         [143, 145, 147, 149, 151, 153, 155, 157], 0.5, (0.08, 30.77), 'MB204.3',
         (0.057, 0.887), 'n = 30', (0.87, 0.124))

# ---- row 2 ----
ax = tw_panel((65, 322, 468, 629), (44.0, 64.15), (0.043701, 0.055367), c_black, c_red,
              [140, 135, 130, 125, 120, 115, 110, 105], [135, 125, 115, 105])
mean_text(ax, 0.215, 0.811, 'Mean age\n117 ± 1 Ma\nMSWD = 1.0')
wm_inset((282, 328, 465, 442), (303, 333, 460, 438), c_lo, c_hi, 117.3, (107.7, 128.0),
         [108, 112, 116, 120, 124, 128], 1, (0.15, 44.85), 'MB385.1', (0.04, 0.85),
         'n = 44', (0.879, 0.124), color=PALE_RED, lw=1.0)

ax = tw_panel((468, 322, 876, 629), (34.59, 75.39), (0.04132, 0.060661), d_black, d_red,
              [160, 140, 120, 100], [160, 120, 100])
mean_text(ax, 0.205, 0.7925, 'Mean age\n103 ± 1 Ma\nMSWD = 0.7')
ax.annotate('', xy=(0.2434, 0.2303), xytext=(0.209, 0.0889), xycoords='axes fraction',
            arrowprops=dict(arrowstyle='-|>', color='black', lw=1.6, mutation_scale=12))
ax.text(0.1887, 0.035, '~140 Ma', transform=ax.transAxes, fontsize=13,
        ha='center', va='center')
wm_inset((660, 330, 870, 461), (680, 334, 870, 458), d_lo, d_hi, 102.7, (96.9, 109.2),
         [97, 99, 101, 103, 105, 107, 109], 0.5, (-0.02, 24.28), 'MB204.1',
         (0.053, 0.847), 'n = 23', (0.891, 0.119))

# ---- row 3 ----
ax = tw_panel((65, 629, 468, 923), (37.976, 70.216), (0.044293, 0.070338), e_black, [],
              [165, 160, 155, 150, 145, 140, 135, 130, 125, 120, 115, 110, 105, 100, 95],
              [160, 150, 140, 130, 120, 110, 100])
ax.text(0.0744, 0.8946, 'MB205.10', transform=ax.transAxes, fontsize=15.5, va='center')
hx = kde_inset((237, 632, 463, 777), (251, 634, 463, 752), e_bin, e_count, e_kde_age,
               e_kde, (95.0, 145.9), (-0.33, 7.06), [0, 1, 2, 3, 4, 5, 6, 7],
               [100, 110, 120, 130, 140])
hx.annotate('c. 109', xy=(109.7, 4.6), xytext=(97.2, 6.48), fontsize=11.5, va='center',
            arrowprops=dict(arrowstyle='-', color='black', lw=1, shrinkA=0, shrinkB=0,
                            relpos=(0.75, 0.1)))
hx.annotate('c. 114', xy=(114.6, 5.85), xytext=(118.7, 6.37), fontsize=11.5, va='center',
            arrowprops=dict(arrowstyle='-', color='black', lw=1, shrinkA=0, shrinkB=0,
                            relpos=(0, 0.3)))
hx.annotate('c. 120', xy=(119.9, 1.78), xytext=(122.7, 3.6), fontsize=11.5, va='center',
            arrowprops=dict(arrowstyle='-', color='black', lw=1, shrinkA=0, shrinkB=0,
                            relpos=(0.1, 0.1)))
hx.text(132.7, 1.92, 'n=53', fontsize=11.5, va='center')
hx.text(120.0, -1.5, 'age [Ma]', fontsize=9.3, ha='center', va='center')

ax = tw_panel((468, 629, 876, 923), (42.173, 68.695), (0.043973, 0.083371), f_black, [],
              [150, 145, 140, 135, 130, 125, 120, 115, 110, 105, 100, 95],
              [150, 140, 130, 120, 110, 100])
ax.text(0.031, 0.9116, 'MB208.3', transform=ax.transAxes, fontsize=15.3, va='center')
hx = kde_inset((582, 632, 870, 774), (603, 635, 870, 746), f_bin, f_count, f_kde_age,
               f_kde, (99.52, 137.6), (-0.475, 8.31), [0, 2, 4, 6, 8],
               [100, 110, 120, 130], xsize=9, ysize=7.5)
hx.annotate('c. 108', xy=(107.0, 5.65), xytext=(100.5, 7.4), fontsize=11.5, va='center',
            arrowprops=dict(arrowstyle='-', color='black', lw=1, shrinkA=0, shrinkB=0,
                            relpos=(0.6, 0.1)))
hx.annotate('c. 120', xy=(120.7, 3.83), xytext=(121.0, 6.6), fontsize=11.5, va='center',
            arrowprops=dict(arrowstyle='-', color='black', lw=1, shrinkA=0, shrinkB=0,
                            relpos=(0.3, 0.1)))
hx.text(127.8, 3.3, 'n=67', fontsize=15.5, va='center')
hx.text(115.7, -2.25, 'age [Ma]', fontsize=9.5, ha='center', va='center')

# ---- row 4 ----
ax = tw_panel((65, 923, 468, 1250), (53.995, 65.077), (0.045252, 0.059313), [], g_red,
              [118, 116, 114, 112, 110, 108, 106, 104, 102, 100],
              [118, 114, 110, 106, 102], red_lw=0.8)
tb = blank((70, 932, 230, 1040), edge='#c4c4c4')
tb.spines['right'].set_visible(False)
tb.spines['bottom'].set_linestyle((0, (4, 4)))
tb.text(0.51, 0.556, 'Mean age\n106 ± 0.3 Ma\nMSWD = 1.0', transform=tb.transAxes,
        ha='center', va='center', fontsize=16, linespacing=1.15)
wm_inset((228, 928, 465, 1067), (253, 930, 463, 1062), g_lo, g_hi, 106.3, (99.1, 116.2),
         [100, 102, 104, 106, 108, 110, 112, 114], 0.5, (-0.11, 63.11), 'MB426.4',
         (0.084, 0.846), 'n = 58 of 62', (0.954, 0.098), color=PALE_RED, lw=1.0,
         rej=(g_rej_pos, g_rej_lo, g_rej_hi))

ax = tw_panel((468, 923, 876, 1250), (58.018, 69.21), (0.045218, 0.058952), h_black, h_red,
              [108, 106, 104, 102, 100, 98, 96, 94], [108, 104, 100, 96], red_lw=1.2)
mean_text(ax, 0.1887, 0.7697, 'Mean age\n100 ± 1 Ma\nMSWD = 1.6')
wm_inset((677, 925, 870, 1062), (701, 928, 870, 1057), h_lo, h_hi, 99.7, (94.0, 106.2),
         [94, 96, 98, 100, 102, 104, 106], 0.5, (0.1, 46.3), 'MB205.3',
         (0.057, 0.839), 'n = 43 of 44', (0.931, 0.08), color=PALE_RED, lw=1.0,
         rej=(h_rej_pos, h_rej_lo, h_rej_hi))

# ---- axis titles ----
for yc in (164, 475, 776, 1086):
    fig.text(30 / FW, 1 - yc / FH, r'$^{207}$Pb/$^{206}$Pb', rotation=90, ha='center',
             va='center', fontsize=17, family=NARROW)
for xc in (270, 672):
    fig.text(xc / FW, 1 - 1278 / FH, r'$^{238}$U/$^{206}$Pb', ha='center', va='center',
             fontsize=17, family=NARROW)

fig.savefig('out.png', dpi=100)
